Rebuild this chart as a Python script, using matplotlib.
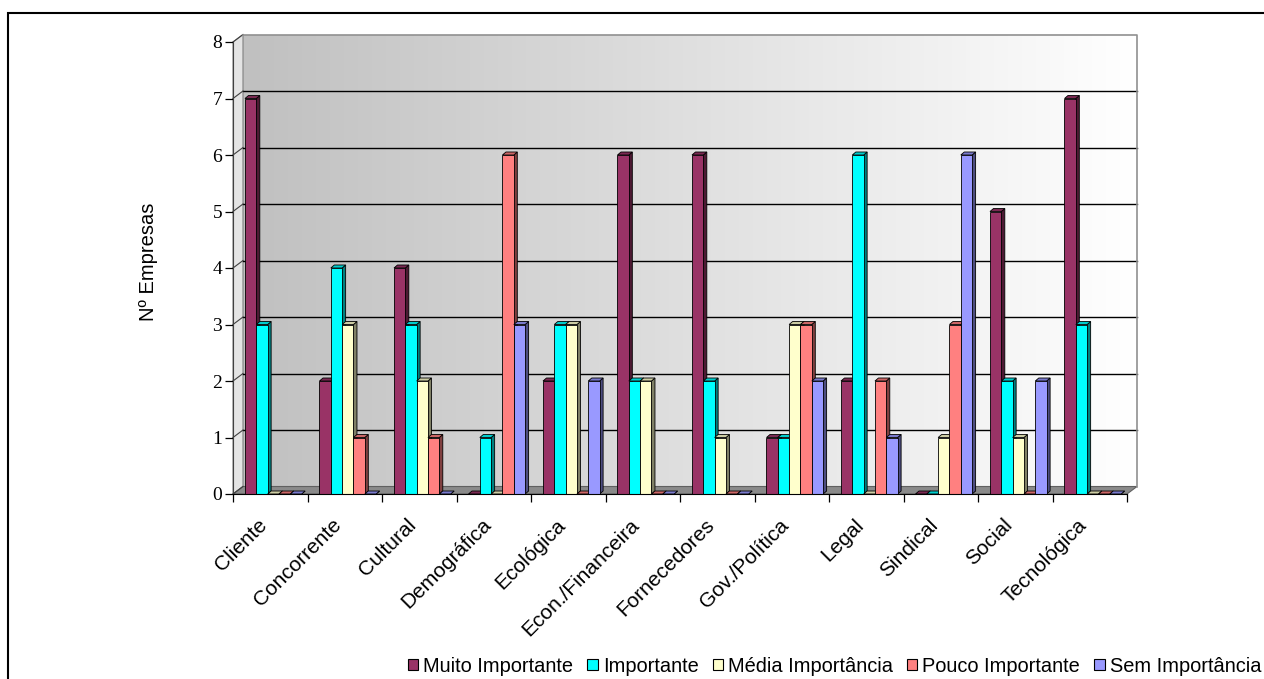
import numpy as np
import matplotlib
matplotlib.use('Agg')
import matplotlib.pyplot as plt
from matplotlib.patches import Rectangle, Polygon, Patch
from matplotlib.colors import LinearSegmentedColormap, to_rgb

plt.rcParams['font.family'] = ['Liberation Sans', 'DejaVu Sans']

categorias = ['Cliente', 'Concorrente', 'Cultural', 'Demográfica', 'Ecológica',
              'Econ./Financeira', 'Fornecedores', 'Gov./Política', 'Legal',
              'Sindical', 'Social', 'Tecnológica']
muito_importante = [7, 2, 4, 0, 2, 6, 6, 1, 2, 0, 5, 7]
importante = [3, 4, 3, 1, 3, 2, 2, 1, 6, 0, 2, 3]
media_importancia = [0, 3, 2, 0, 3, 2, 1, 3, 0, 1, 1, 0]
pouco_importante = [0, 1, 1, 6, 0, 0, 0, 3, 2, 3, 0, 0]
sem_importancia = [0, 0, 0, 3, 2, 0, 0, 2, 1, 6, 2, 0]

series = ['Muito Importante', 'Importante', 'Média Importância',
          'Pouco Importante', 'Sem Importância']
valores = [muito_importante, importante, media_importancia,
           pouco_importante, sem_importancia]
cores = ['#993366', '#00FFFF', '#FFFFCC', '#FF8080', '#9999FF']

W, H = 1264, 679
fig = plt.figure(figsize=(W / 100, H / 100), dpi=100)
ax = fig.add_axes([233 / W, (H - 494) / H, 894 / W, 452 / H])
n = len(categorias)
ymax = 8

# 3d depth of walls and bars (data units)
dx, dy = 10 / 74.5, 7.5 / 56.5
bdx, bdy = 3.5 / 74.5, 3 / 56.5
bw, off = 0.152, 0.161

# back wall with gradient
cmap = LinearSegmentedColormap.from_list('wall', ['#C0C0C0', '#FFFFFF'])
im = ax.imshow(np.linspace(0, 1, 256)[None, :], extent=(dx, n + dx, dy, ymax + dy),
               cmap=cmap, aspect='auto', zorder=0)
im.set_clip_on(False)

# side wall and floor
ax.add_patch(Polygon([(0, 0), (dx, dy), (dx, ymax + dy), (0, ymax)], closed=True,
                     facecolor='#E4E4E4', edgecolor='#808080', lw=0.8, zorder=0.3, clip_on=False))
ax.add_patch(Polygon([(0, 0), (n, 0), (n + dx, dy), (dx, dy)], closed=True,
                     facecolor='#8A8A8A', edgecolor='#606060', lw=0.8, zorder=0.3, clip_on=False))

# gridlines
for k in range(1, ymax):
    ax.plot([dx, n + dx], [k + dy, k + dy], color='black', lw=1.0, zorder=0.5, clip_on=False)
for k in range(0, ymax + 1):
    ax.plot([0, dx], [k, k + dy], color='#404040', lw=0.8, zorder=0.5, clip_on=False)
ax.plot([dx, n + dx, n + dx], [ymax + dy, ymax + dy, dy], color='#909090', lw=1.2,
        zorder=0.5, clip_on=False)

# bars
for c in range(n):
    for i in range(len(series)):
        v = valores[i][c]
        x0 = c + off + i * bw
        f = np.array(to_rgb(cores[i]))
        ax.add_patch(Polygon([(x0 + bw, 0), (x0 + bw + bdx, bdy), (x0 + bw + bdx, v + bdy), (x0 + bw, v)],
                             closed=True, facecolor=f * 0.5, edgecolor='black', lw=0.6,
                             zorder=2, clip_on=False))
        ax.add_patch(Polygon([(x0, v), (x0 + bdx, v + bdy), (x0 + bw + bdx, v + bdy), (x0 + bw, v)],
                             closed=True, facecolor=f * 0.8, edgecolor='black', lw=0.6,
                             zorder=2, clip_on=False))
        ax.add_patch(Rectangle((x0, 0), bw, v, facecolor=f, edgecolor='black', lw=0.6,
                               zorder=2, clip_on=False))

ax.set_xlim(0, n)
ax.set_ylim(0, ymax)
for s in ['top', 'right']:
    ax.spines[s].set_visible(False)
ax.spines['left'].set_color('#404040')
ax.spines['bottom'].set_color('black')
ax.spines['left'].set_zorder(3)
ax.spines['bottom'].set_zorder(3)
ax.set_xticks(range(n + 1))
ax.set_xticklabels([])
ax.set_yticks(range(ymax + 1))
ax.tick_params(axis='both', direction='out', length=5.8, width=0.9, color='black')
ax.tick_params(axis='y', pad=2)
for t in ax.get_yticklabels():
    t.set_fontfamily(['Liberation Serif', 'DejaVu Serif'])
    t.set_fontsize(14)

for c, nome in enumerate(categorias):
    ax.text(c + 0.5 - 6 / 74.5, -28 / 56.5, nome, rotation=45, rotation_mode='anchor',
            ha='right', va='center', fontsize=15, clip_on=False)

fig.text(148 / W, 1 - 262 / H, 'Nº Empresas', rotation=90, ha='center', va='center', fontsize=14.5)

handles = [Patch(facecolor=c, edgecolor='black', lw=0.8) for c in cores]
fig.legend(handles, series, loc='center right', bbox_to_anchor=(1261 / W, 1 - 666 / H),
           ncol=5, frameon=False, fontsize=14.4, handlelength=0.52, handleheight=0.52,
           handletextpad=0.25, columnspacing=0.7, borderaxespad=0, borderpad=0)

# outer frame
fig.add_artist(Rectangle((8 / W, -0.1), 1.2, 1 - 12.5 / H + 0.1, transform=fig.transFigure,
                         facecolor='none', edgecolor='black', lw=1.5))

fig.savefig('out.png', dpi=100)
